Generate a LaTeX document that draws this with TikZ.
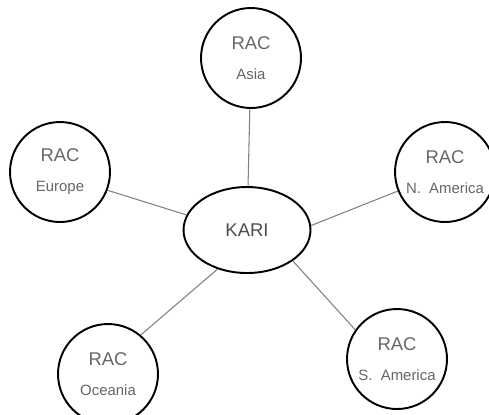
\documentclass[tikz,border=0pt]{standalone}
\usepackage{fontspec}
\setmainfont{Liberation Sans}
\usetikzlibrary{shapes.geometric}

\begin{document}
\begin{tikzpicture}[x=0.02cm,y=-0.02cm,
  rac/.style={circle,draw,line width=1.1pt,minimum size=2cm,inner sep=0pt,align=center,text=black!60,font=\fontsize{10.5}{12}\selectfont},
  hub/.style={ellipse,draw,line width=1.1pt,minimum width=2.54cm,minimum height=1.72cm,inner sep=0pt,text=black!70,font=\fontsize{10.5}{12}\selectfont},
  link/.style={black!50,line width=.6pt}]
\useasboundingbox (0,0) rectangle (489,414);
\newcommand{\reg}[1]{RAC\\[5pt]{\fontsize{8.5}{10}\selectfont #1}}

\node[hub] (kari) at (247,230) {KARI};
\node[rac] (asia) at (251,58) {\reg{Asia}};
\node[rac] (eur) at (60,172) {\reg{Europe}};
\node[rac] (nam) at (445,172) {\reg{N.\ \ America}};
\node[rac] (sam) at (397,359) {\reg{S.\ \ America}};
\node[rac] (oce) at (108,374) {\reg{Oceania}};

\draw[link] (asia) -- (kari);
\draw[link] (eur.-21) -- (kari.166);
\draw[link] (nam.202) -- (kari.4);
\draw[link] (sam.145) -- (kari.-34);
\draw[link] (oce.50) -- (kari.233);

\end{tikzpicture}
\end{document}
